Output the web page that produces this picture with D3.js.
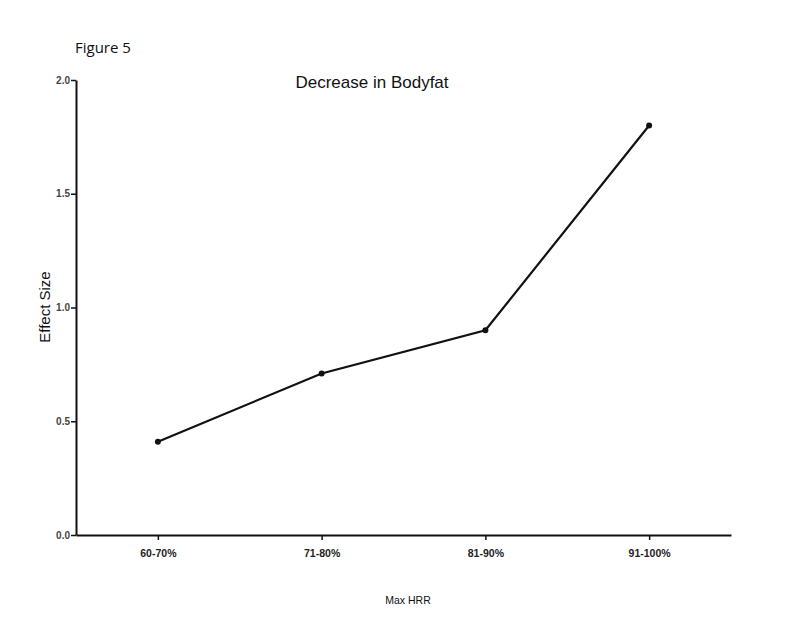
<!DOCTYPE html>
<html><head><meta charset="utf-8">
<script src="https://cdn.jsdelivr.net/npm/d3@7"></script>
<style>body{margin:0;background:#fff;} svg{display:block;}</style>
</head><body>
<svg id="c" width="800" height="631"></svg>
<script>
const categories = ["60-70%", "71-80%", "81-90%", "91-100%"];
const effectSize = [0.41, 0.71, 0.90, 1.80];
const yTicks = [0.0, 0.5, 1.0, 1.5, 2.0];

(function () {
const svg = d3.select("#c");
const mLeft = 76, mRight = 731, mTop = 80, mBottom = 535;
const x = d3.scalePoint().domain(categories).range([mLeft, mRight]).padding(0.5);
const y = d3.scaleLinear().domain([0, 2]).range([mBottom, mTop]);

svg.append("text").attr("x", 75).attr("y", 53).attr("font-family", "Open Sans, Liberation Sans, sans-serif")
  .attr("font-size", 15).attr("fill", "#111").text("Figure 5");

svg.append("text").attr("x", 372).attr("y", 88).attr("text-anchor", "middle")
  .attr("font-family", "Liberation Sans, Arial, sans-serif").attr("font-size", 17).attr("fill", "#111")
  .text("Decrease in Bodyfat");

const yAxis = svg.append("g").attr("transform", `translate(${mLeft},0)`)
  .call(d3.axisLeft(y).tickValues(yTicks).tickFormat(d3.format(".1f")).tickSize(5).tickSizeOuter(0));
yAxis.select(".domain").attr("stroke", "#111").attr("stroke-width", 2);
yAxis.selectAll(".tick line").attr("stroke", "#111").attr("stroke-width", 1.5);
yAxis.selectAll("text").attr("font-family", "Liberation Sans, Arial, sans-serif").attr("font-size", 10)
  .attr("fill", "#444").attr("font-weight", "bold").attr("dx", 2);

const xAxis = svg.append("g").attr("transform", `translate(0,${mBottom})`)
  .call(d3.axisBottom(x).tickSize(5).tickSizeOuter(0));
xAxis.select(".domain").attr("stroke", "#111").attr("stroke-width", 2);
xAxis.selectAll(".tick line").attr("stroke", "#111").attr("stroke-width", 1.5);
xAxis.selectAll("text").attr("font-family", "Liberation Sans, Arial, sans-serif").attr("font-size", 10.5)
  .attr("fill", "#222").attr("font-weight", "bold").attr("dy", "1.3em");

svg.append("text").attr("transform", "translate(50,307) rotate(-90)").attr("text-anchor", "middle")
  .attr("font-family", "Liberation Sans, Arial, sans-serif").attr("font-size", 15).attr("fill", "#111")
  .text("Effect Size");

svg.append("text").attr("x", 408).attr("y", 604).attr("text-anchor", "middle")
  .attr("font-family", "Liberation Sans, Arial, sans-serif").attr("font-size", 10.5).attr("fill", "#111")
  .text("Max HRR");

const data = categories.map((c, i) => ({c, v: effectSize[i]}));
svg.append("path").datum(data)
  .attr("d", d3.line().x(d => x(d.c)).y(d => y(d.v)))
  .attr("fill", "none").attr("stroke", "#111").attr("stroke-width", 2.2);
svg.selectAll("circle.pt").data(data).join("circle").attr("class", "pt")
  .attr("cx", d => x(d.c)).attr("cy", d => y(d.v)).attr("r", 3).attr("fill", "#111");
})();
</script>
</body></html>
